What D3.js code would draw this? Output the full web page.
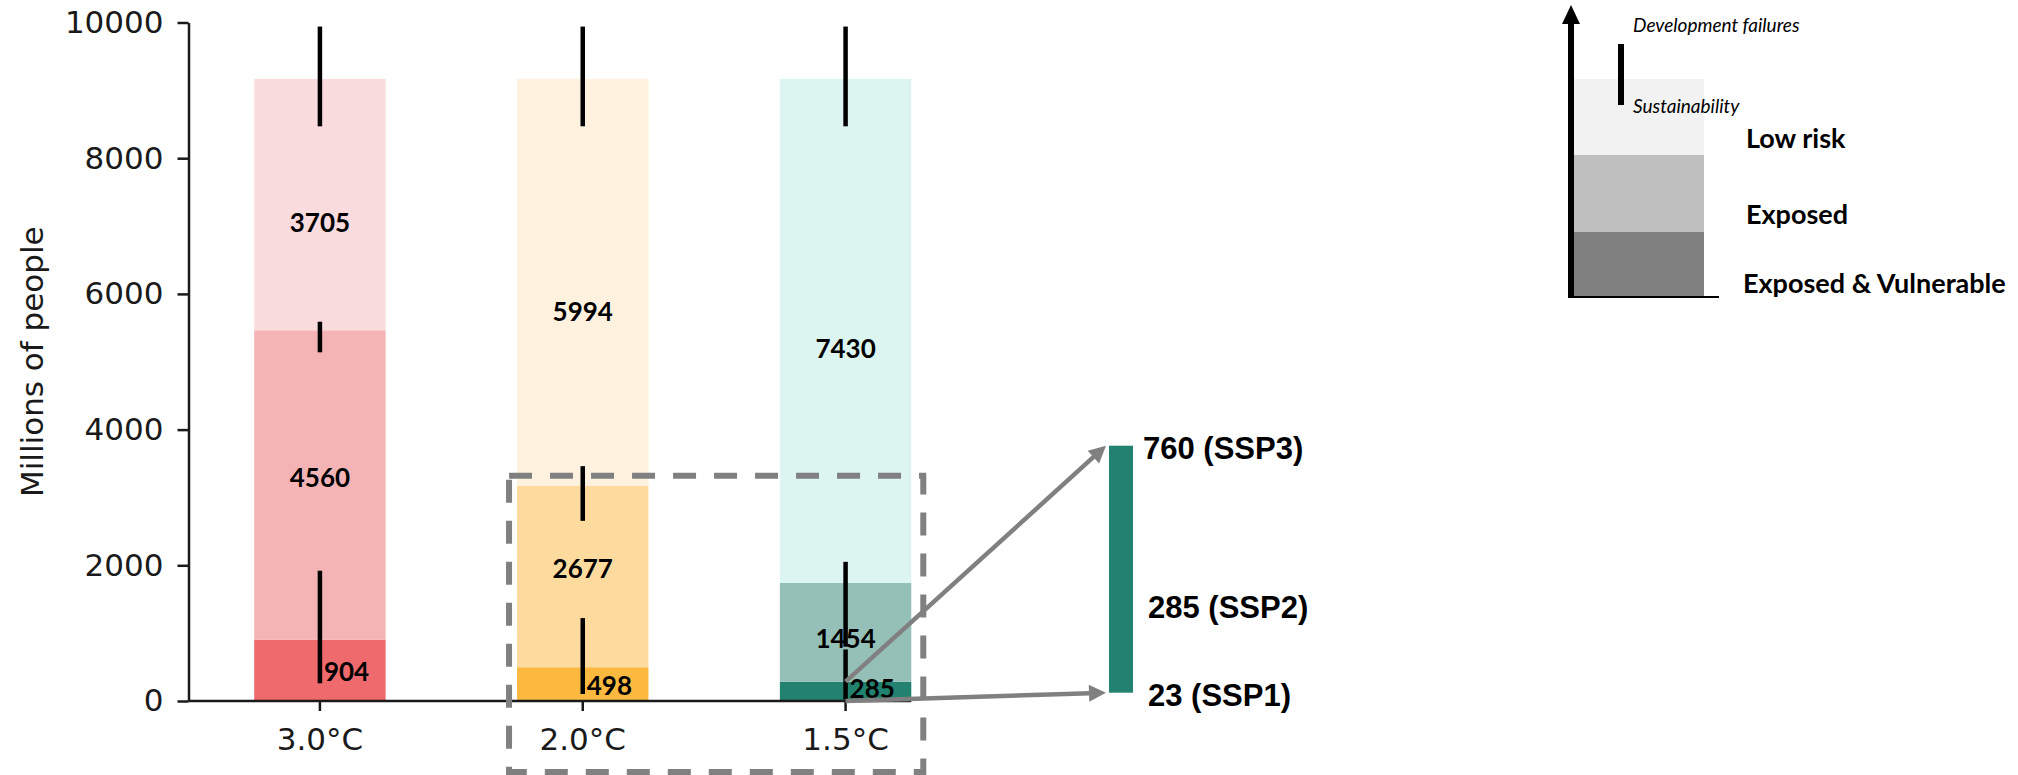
<!DOCTYPE html>
<html>
<head>
<meta charset="utf-8">
<script src="https://cdn.jsdelivr.net/npm/d3@7"></script>
<style>
  body { margin: 0; background: #fff; }
  svg { display: block; }
  .axis text { font-family: "DejaVu Sans", sans-serif; font-size: 31px; fill: #1a1a1a; }
  .axis line, .axis path { stroke: #1a1a1a; stroke-width: 2.5; }
  .val { font-family: Lato, "Open Sans", sans-serif; font-weight: 700; font-size: 26px; fill: #000; }
  .ssp { font-family: "Liberation Sans", Arial, sans-serif; font-weight: 700; font-size: 31px; fill: #000; }
  .leg { font-family: Lato, "Open Sans", sans-serif; font-weight: 700; font-size: 27px; fill: #000; }
  .legi { font-family: Lato, "Open Sans", sans-serif; font-style: italic; font-size: 19px; fill: #000; }
</style>
</head>
<body>
<div id="chart"></div>
<script>
// data (millions of people)
var categories = ["3.0°C", "2.0°C", "1.5°C"];
var vulnerable = [904, 498, 285];
var exposed = [4560, 2677, 1454];
var lowRisk = [3705, 5994, 7430];

// ranges shown as black bars (development failures ... sustainability)
var devLow = [8470, 8470, 8470];
var devHigh = [9940, 9940, 9940];
var expLow = [5139, 2655, 800];
var expHigh = [5590, 3461, 2051];
var vulLow = [261, 103, 23];
var vulHigh = [1920, 1222, 760];

var yTicks = [0, 2000, 4000, 6000, 8000, 10000];

var sspValues = [23, 285, 760];
var sspLabels = ["23 (SSP1)", "285 (SSP2)", "760 (SSP3)"];

var legendLabels = ["Exposed & Vulnerable", "Exposed", "Low risk"];
var legendColors = ["#808080", "#bfbfbf", "#f2f2f2"];

var palettes = [
    ["#ee6a6c", "#f4b4b5", "#fadbde"],
    ["#fbb940", "#fddb9f", "#fef2df"],
    ["#22816f", "#95c0b8", "#dcf5f1"]
];

var W = 2018, H = 775;
var svg = d3.select("#chart").append("svg").attr("width", W).attr("height", H);

var x = d3.scaleBand().domain(categories).range([188.5, 977]).paddingInner(0.5).paddingOuter(0.25);
var y = d3.scaleLinear().domain([0, 10000]).range([701, 22.5]);
var bw = x.bandwidth();
var cx = function (c) { return x(c) + bw / 2; };

var rows = categories.map(function (c, i) {
    return {cat: c, i: i, vul: vulnerable[i], exp: exposed[i], low: lowRisk[i]};
});
var keys = ["vul", "exp", "low"];
var series = d3.stack().keys(keys)(rows);

// stacked bars
series.forEach(function (s, k) {
    svg.append("g").selectAll("rect")
        .data(s)
        .enter().append("rect")
        .attr("x", function (d) { return x(d.data.cat); })
        .attr("y", function (d) { return y(d[1]); })
        .attr("width", bw)
        .attr("height", function (d) { return y(d[0]) - y(d[1]); })
        .attr("fill", function (d) { return palettes[d.data.i][k]; });
});

// uncertainty bars
var ranges = [[vulLow, vulHigh], [expLow, expHigh], [devLow, devHigh]];
ranges.forEach(function (r) {
    svg.append("g").selectAll("line")
        .data(categories)
        .enter().append("line")
        .attr("x1", cx).attr("x2", cx)
        .attr("y1", function (c, i) { return y(r[0][i]); })
        .attr("y2", function (c, i) { return y(r[1][i]); })
        .attr("stroke", "#000")
        .attr("stroke-width", 4.5);
});

// value labels (hand placed in the original, so a couple get nudged)
var labelDy = [11, 2, 27];
var labelNudge = {"low 2.0°C": 12, "exp 1.5°C": 14};
series.forEach(function (s, k) {
    svg.append("g").selectAll("text")
        .data(s)
        .enter().append("text")
        .attr("class", "val")
        .attr("x", function (d) { return k === 0 ? cx(d.data.cat) + 4 : cx(d.data.cat); })
        .attr("y", function (d) {
            var b = y((d[0] + d[1]) / 2) + labelDy[k] + (labelNudge[keys[k] + " " + d.data.cat] || 0);
            return k === 0 ? Math.min(b, y(0) - 3) : b;
        })
        .attr("text-anchor", k === 0 ? "start" : "middle")
        .text(function (d) { return d.data[keys[k]]; });
});

// axes
svg.append("g").attr("class", "axis")
    .attr("transform", "translate(188.5,0)")
    .call(d3.axisLeft(y).tickValues(yTicks).tickSize(11).tickSizeOuter(0).tickPadding(14).tickFormat(d3.format("d")));
var xAxis = svg.append("g").attr("class", "axis")
    .attr("transform", "translate(0,701)")
    .call(d3.axisBottom(x).tickSize(10).tickSizeOuter(0).tickPadding(17));
// bottom spine stops at the last bar, the arrow runs on from there
xAxis.select(".domain").attr("d", "M188.5,0H" + (x("1.5°C") + bw));

svg.append("text")
    .attr("transform", "translate(43,361.7) rotate(-90)")
    .attr("text-anchor", "middle")
    .style("font-family", "'DejaVu Sans', sans-serif")
    .style("font-size", "31px")
    .attr("fill", "#1a1a1a")
    .text("Millions of people");

// dashed zoom box round 2.0 and 1.5
var boxL = x("2.0°C") - 8, boxR = x("1.5°C") + bw + 12, boxT = y(3320), boxB = 772;
svg.append("rect")
    .attr("x", boxL).attr("y", boxT)
    .attr("width", boxR - boxL).attr("height", boxB - boxT)
    .attr("fill", "none")
    .attr("stroke", "#808080")
    .attr("stroke-width", 6)
    .attr("stroke-dasharray", "23,18");

// SSP range bar
var sspX = 1109, sspW = 24;
var ys = d3.scaleLinear().domain([23, 760]).range([692.7, 445.7]);
svg.append("rect")
    .attr("x", sspX).attr("y", ys(760))
    .attr("width", sspW).attr("height", ys(23) - ys(760))
    .attr("fill", "#22816f");

svg.append("g").selectAll("text")
    .data(sspValues)
    .enter().append("text")
    .attr("class", "ssp")
    .attr("x", function (d, i) { return i === 2 ? sspX + sspW + 10 : sspX + sspW + 15; })
    .attr("y", function (d) { return ys(d) + 13; })
    .text(function (d, i) { return sspLabels[i]; });

// arrows from the 1.5 bar to the SSP bar
var arrows = [
    {from: [cx("1.5°C"), y(285)], to: [sspX - 3, ys(760)]},
    {from: [cx("1.5°C"), y(0)], to: [sspX - 3, ys(23)]}
];
arrows.forEach(function (a) {
    var dx = a.to[0] - a.from[0], dy = a.to[1] - a.from[1];
    var len = Math.sqrt(dx * dx + dy * dy);
    var ux = dx / len, uy = dy / len, head = 17, half = 8.5;
    var bx = a.to[0] - ux * head, by = a.to[1] - uy * head;
    svg.append("line")
        .attr("x1", a.from[0]).attr("y1", a.from[1])
        .attr("x2", bx + ux).attr("y2", by + uy)
        .attr("stroke", "#808080")
        .attr("stroke-width", 4.5);
    svg.append("polygon")
        .attr("points", [
            [a.to[0], a.to[1]],
            [bx - uy * half, by + ux * half],
            [bx + uy * half, by - ux * half]
        ].map(function (p) { return p.join(","); }).join(" "))
        .attr("fill", "#808080");
});

// legend
var lg = svg.append("g");
var legendEdges = [297, 232, 155, 79];
lg.selectAll("rect")
    .data(legendLabels)
    .enter().append("rect")
    .attr("x", 1574).attr("width", 130)
    .attr("y", function (d, i) { return legendEdges[i + 1]; })
    .attr("height", function (d, i) { return legendEdges[i] - legendEdges[i + 1]; })
    .attr("fill", function (d, i) { return legendColors[i]; });

lg.selectAll("text.leg")
    .data(legendLabels)
    .enter().append("text")
    .attr("class", "leg")
    .attr("x", function (d, i) { return i === 0 ? 1743 : 1746; })
    .attr("y", function (d, i) { return [293, 224, 148][i]; })
    .text(function (d) { return d; });

lg.append("line").attr("x1", 1568).attr("x2", 1719).attr("y1", 297).attr("y2", 297)
    .attr("stroke", "#000").attr("stroke-width", 2);
lg.append("line").attr("x1", 1571).attr("x2", 1571).attr("y1", 298).attr("y2", 22)
    .attr("stroke", "#000").attr("stroke-width", 6);
lg.append("polygon").attr("points", "1562,24 1580,24 1571,5").attr("fill", "#000");
lg.append("line").attr("x1", 1621).attr("x2", 1621).attr("y1", 44).attr("y2", 105)
    .attr("stroke", "#000").attr("stroke-width", 6);
lg.append("text").attr("class", "legi").attr("x", 1633).attr("y", 32).text("Development failures");
lg.append("text").attr("class", "legi").attr("x", 1633).attr("y", 113).text("Sustainability");
</script>
</body>
</html>
